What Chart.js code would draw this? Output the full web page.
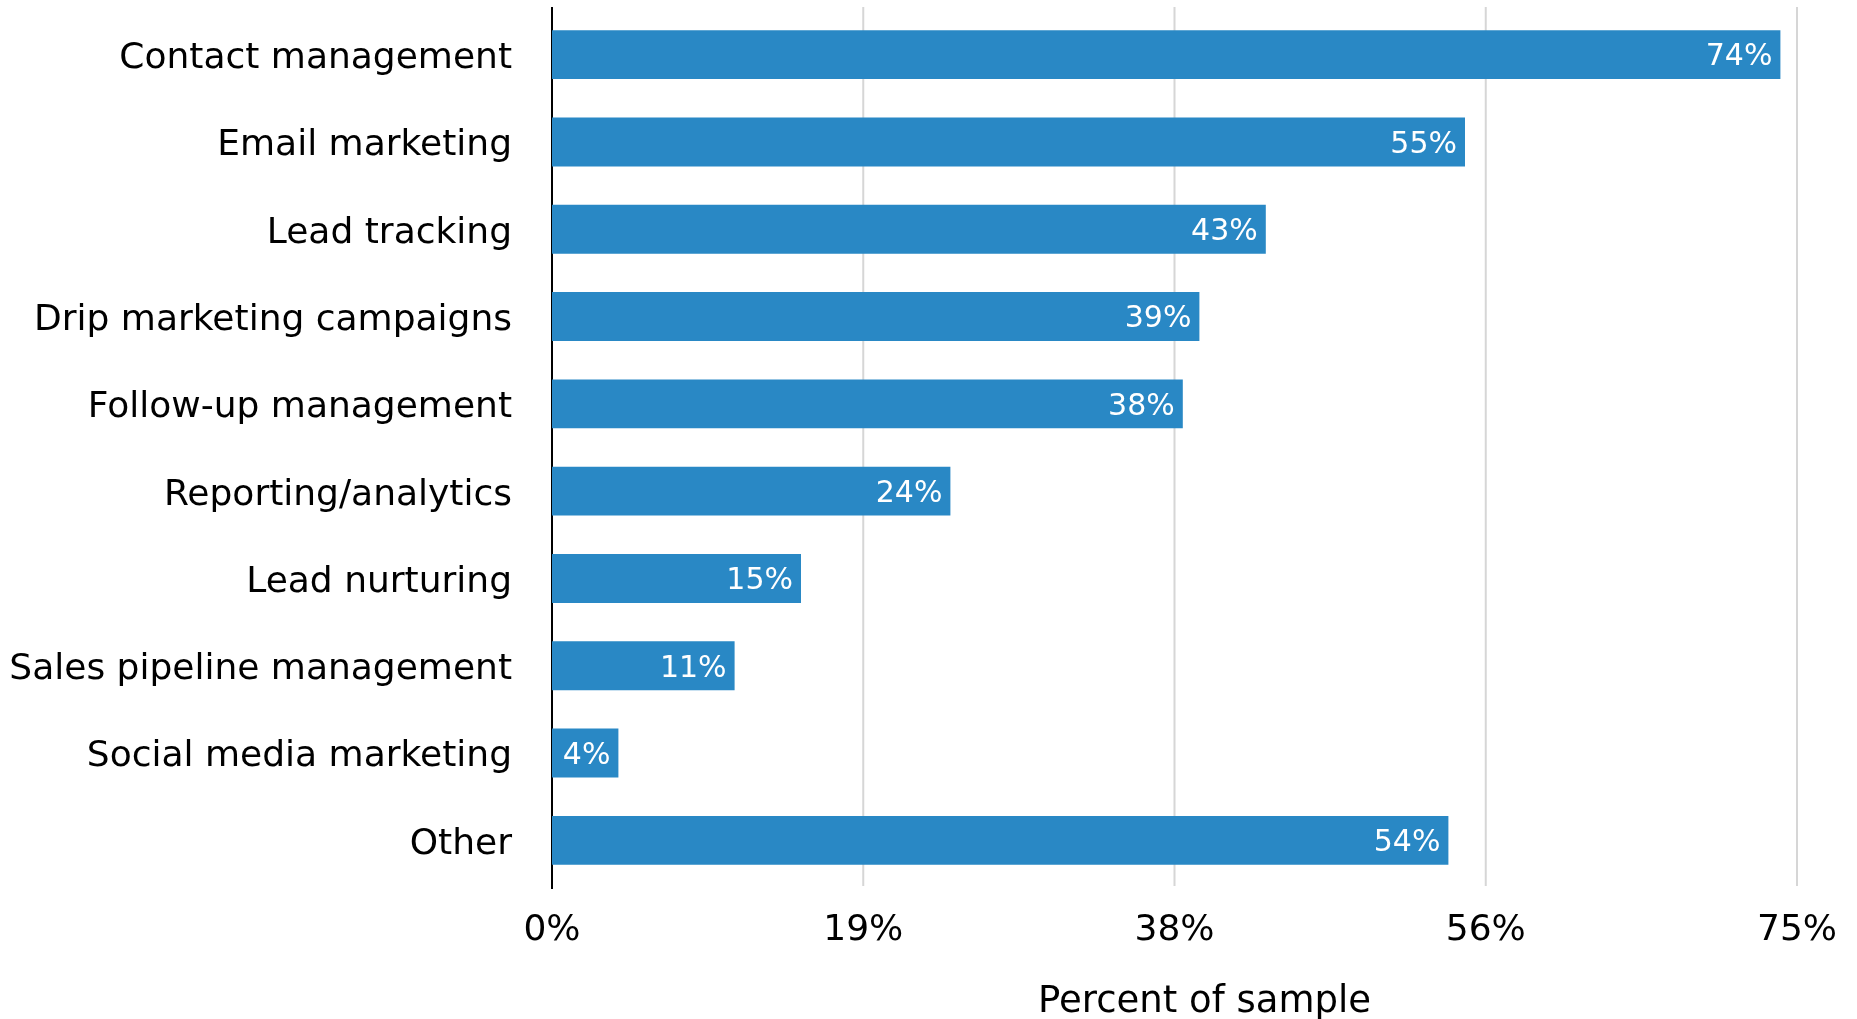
<!DOCTYPE html>
<html>
<head>
<meta charset="utf-8">
<script src="https://cdn.jsdelivr.net/npm/chart.js@4.4.1/dist/chart.umd.min.js"></script>
<style>
  html, body { margin: 0; padding: 0; background: #fff; }
  #wrap { width: 1857px; height: 1019px; }
</style>
</head>
<body>
<div id="wrap"><canvas id="featChart" width="1857" height="1019"></canvas></div>
<script>
const features = [
  "Contact management",
  "Email marketing",
  "Lead tracking",
  "Drip marketing campaigns",
  "Follow-up management",
  "Reporting/analytics",
  "Lead nurturing",
  "Sales pipeline management",
  "Social media marketing",
  "Other",
];
const shares = [74, 55, 43, 39, 38, 24, 15, 11, 4, 54];
const xTicks = [0, 18.75, 37.5, 56.25, 75];
const xTitle = "Percent of sample";

const FONT = "'DejaVu Sans', Verdana, sans-serif";
const BAR = "#2988c5";

// grid + axis line, drawn under the bars so they can poke out past the plot box
const gridLines = {
  id: "gridLines",
  beforeDatasetsDraw(chart) {
    const { ctx, chartArea } = chart;
    const xs = chart.scales.x;
    ctx.save();
    xTicks.forEach((v) => {
      const px = xs.getPixelForValue(v);
      ctx.beginPath();
      if (v === 0) {
        ctx.strokeStyle = "#000";
        ctx.lineWidth = 2;
        ctx.moveTo(px, chartArea.top - 4);
        ctx.lineTo(px, chartArea.bottom + 5);
      } else {
        ctx.strokeStyle = "#d6d6d6";
        ctx.lineWidth = 2;
        ctx.moveTo(px, chartArea.top - 4);
        ctx.lineTo(px, chartArea.bottom + 2);
      }
      ctx.stroke();
    });
    ctx.restore();
  },
};

// percent labels inside the bar ends, plus the x axis title
const barLabels = {
  id: "barLabels",
  afterDatasetsDraw(chart) {
    const { ctx, chartArea } = chart;
    const meta = chart.getDatasetMeta(0);
    ctx.save();
    ctx.fillStyle = "#fff";
    ctx.font = "30px " + FONT;
    ctx.textAlign = "right";
    ctx.textBaseline = "middle";
    meta.data.forEach((bar, i) => {
      ctx.fillText(shares[i] + "%", bar.x - 8, bar.y + 3);
    });
    ctx.fillStyle = "#000";
    ctx.font = "37px " + FONT;
    ctx.textAlign = "center";
    ctx.textBaseline = "alphabetic";
    ctx.fillText(xTitle, (chartArea.left + chartArea.right) / 2 + 30, 1012);
    ctx.restore();
  },
};

new Chart(document.getElementById("featChart"), {
  type: "bar",
  data: {
    labels: features,
    datasets: [
      {
        data: shares,
        backgroundColor: BAR,
        borderWidth: 0,
        barPercentage: 0.56,
        categoryPercentage: 1,
      },
    ],
  },
  options: {
    indexAxis: "y",
    responsive: false,
    animation: false,
    devicePixelRatio: 1,
    layout: { padding: { top: 11, right: 60, left: 0, bottom: 0 } },
    plugins: {
      legend: { display: false },
      tooltip: { enabled: false },
    },
    scales: {
      x: {
        min: 0,
        max: 75,
        afterBuildTicks(scale) {
          scale.ticks = xTicks.map((v) => ({ value: v }));
        },
        afterFit(scale) {
          scale.height = 135;
          scale.paddingLeft = 0;
          scale.paddingRight = 0;
        },
        grid: { display: false },
        border: { display: false },
        ticks: {
          padding: 17,
          color: "#000",
          font: { family: FONT, size: 36 },
          callback: (v) => Math.round(v) + "%",
        },
      },
      y: {
        afterFit(scale) {
          scale.width = 552;
          scale.paddingTop = 0;
          scale.paddingBottom = 0;
        },
        grid: { display: false },
        border: { display: false },
        ticks: {
          padding: 32,
          labelOffset: 4,
          color: "#000",
          font: { family: FONT, size: 36 },
        },
      },
    },
  },
  plugins: [gridLines, barLabels],
});
</script>
</body>
</html>
